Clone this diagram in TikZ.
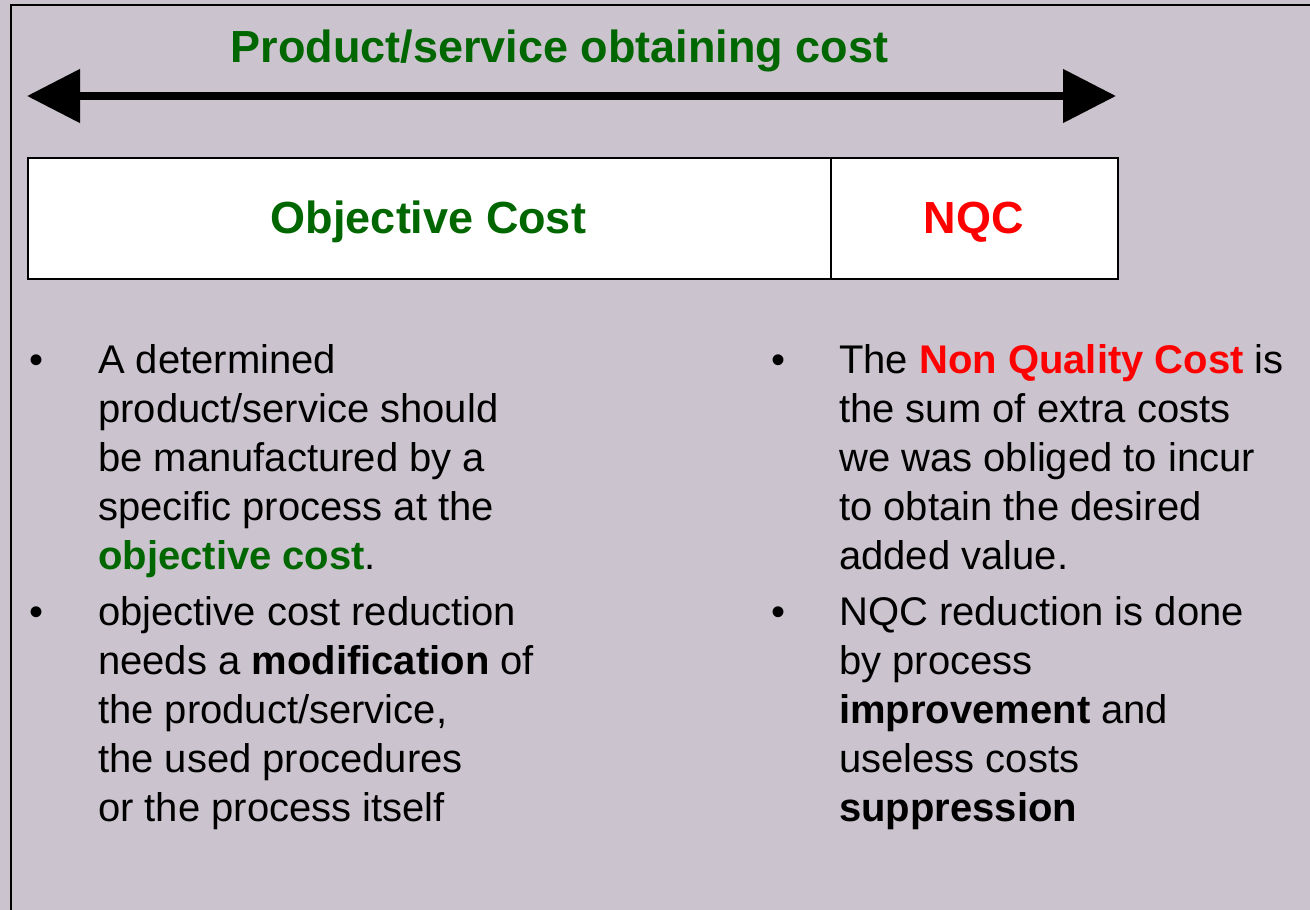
\documentclass[tikz,border=0pt]{standalone}
\usepackage{fontspec}
\setmainfont{Liberation Sans}
\usetikzlibrary{arrows.meta}
\definecolor{slide}{RGB}{203,195,205}
\definecolor{costgreen}{RGB}{0,102,0}
\definecolor{nqred}{RGB}{255,0,0}

\begin{document}
\begin{tikzpicture}[x=1pt,y=-1pt,
  heading/.style={anchor=base, inner sep=0pt, text=costgreen, font=\fontsize{45}{54}\selectfont\bfseries},
  cell/.style={draw=black, line width=2pt, fill=white, minimum height=121pt, inner sep=0pt, anchor=north west},
  celltext/.style={anchor=base, inner sep=0pt, font=\fontsize{45}{54}\selectfont\bfseries},
  body/.style={anchor=base west, inner sep=0pt, align=left, font=\fontsize{40}{49}\selectfont},
  bulletmark/.style={anchor=base, inner sep=0pt, font=\fontsize{40}{49}\selectfont},
  span/.style={line width=8pt, {Triangle[length=53pt,width=52pt]}-{Triangle[length=53pt,width=52pt]}}
]
% slide background and frame
\fill[slide] (0,0) rectangle (1310,910);
\useasboundingbox (0,0) rectangle (1310,910);
\draw[line width=2pt] (11,912) -- (11,5) -- (1312,5);

% heading and the double arrow spanning the whole cost
\node[heading] (title) at (559.5,62) {Product/service obtaining cost};
\coordinate (spanL) at (27,96);
\coordinate (spanR) at (1116,96);
\draw[span] (spanL) -- (spanR);

% cost bar split into objective cost and NQC
\node[cell, minimum width=803pt] (obj) at (27,157) {};
\node[cell, minimum width=287pt] (nqc) at (830,157) {};
\node[celltext, text=costgreen] (objlbl) at (428.5,233) {Objective Cost};
\node[celltext, text=nqred] (nqclbl) at (973.5,233) {NQC};

% left column (each paragraph is anchored on the baseline of its last line)
\node[bulletmark] (b1) at (37,373) {•};
\node[body] (p1) at (98,569) {A determined\\product/service should\\be manufactured by a\\specific process at the\\\textcolor{costgreen}{\bfseries objective cost}.};
\node[bulletmark] (b2) at (37,625) {•};
\node[body] (p2) at (98,821) {objective cost reduction\\needs a \textbf{modification} of\\the product/service,\\the used procedures\\or the process itself};

% right column
\node[bulletmark] (b3) at (778,373) {•};
\node[body] (p3) at (839,569) {The \textcolor{nqred}{\bfseries Non Quality Cost} is\\the sum of extra costs\\we was obliged to incur\\to obtain the desired\\added value.};
\node[bulletmark] (b4) at (778,625) {•};
\node[body] (p4) at (839,821) {NQC reduction is done\\by process\\\textbf{improvement} and\\useless costs\\\textbf{suppression}};
\end{tikzpicture}
\end{document}
